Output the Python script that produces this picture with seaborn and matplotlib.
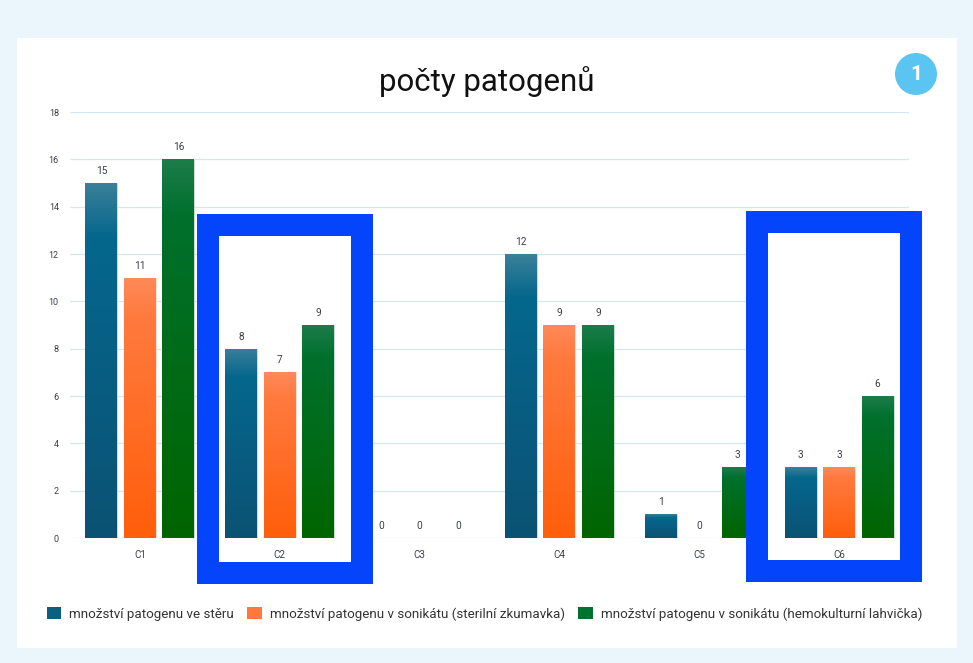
import numpy as np
import pandas as pd
import matplotlib
matplotlib.use("Agg")
import matplotlib.pyplot as plt
import seaborn as sns
from matplotlib.patches import Rectangle, Ellipse, Patch
from matplotlib.colors import LinearSegmentedColormap

categories = ["C1", "C2", "C3", "C4", "C5", "C6"]
series_names = [
    "množství patogenu ve stěru",
    "množství patogenu v sonikátu (sterilní zkumavka)",
    "množství patogenu v sonikátu (hemokulturní lahvička)",
]
swab = [15, 8, 0, 12, 1, 3]
sonic_tube = [11, 7, 0, 9, 0, 3]
sonic_bottle = [16, 9, 0, 9, 3, 6]
y_ticks = [0, 2, 4, 6, 8, 10, 12, 14, 16, 18]
title = "počty patogenů"

colors = ["#0d5f80", "#ff7a3a", "#00722f"]
# gradient stops: bottom, upper-middle, top
grad_stops = [
    ["#0b5274", "#05678d", "#3a8099"],
    ["#ff5e0a", "#ff7a3e", "#ff8a5a"],
    ["#006500", "#00702c", "#1c7c4a"],
]

sns.set_theme(style="white")
plt.rcParams["font.family"] = ["Roboto", "DejaVu Sans"]

df = pd.DataFrame({
    "cat": categories * 3,
    "val": swab + sonic_tube + sonic_bottle,
    "series": [series_names[0]] * 6 + [series_names[1]] * 6 + [series_names[2]] * 6,
})

W, H = 973, 663
fig = plt.figure(figsize=(W / 100, H / 100), dpi=100, facecolor="#ebf5fc")

def fx(px):
    return px / W

def fy(py):
    return 1 - py / H

# white card
fig.patches.append(Rectangle((fx(17), fy(648)), fx(957) - fx(17), fy(38) - fy(648),
                             transform=fig.transFigure, facecolor="white",
                             edgecolor="none", zorder=-5))

ax = fig.add_axes([fx(70), fy(538), fx(909) - fx(70), fy(112) - fy(538)])
ax.set_facecolor("none")

sns.barplot(data=df, x="cat", y="val", hue="series", hue_order=series_names,
            palette=colors, width=0.826, gap=0.17, ax=ax, legend=False,
            edgecolor="white", linewidth=0.4, zorder=2)

ax.set_ylim(0, 18)
ax.set_yticks(y_ticks)
ax.set_yticklabels([str(t) for t in y_ticks], fontsize=6.5, color="#3a3f4a")
ax.tick_params(axis="y", length=0, pad=8)
ax.tick_params(axis="x", length=0, pad=9, labelsize=7, labelcolor="#3a3f4a")
ax.set_xlabel("")
ax.set_ylabel("")
ax.grid(axis="y", color="#d5e6f3", linewidth=0.9)
ax.grid(axis="x", visible=False)
for s in ax.spines.values():
    s.set_visible(False)
ax.yaxis.set_zorder(0.5)
ax.xaxis.set_zorder(3)

# gradient fill on each bar
grad = np.linspace(0, 1, 256).reshape(-1, 1)
for i, cont in enumerate(ax.containers):
    cmap = LinearSegmentedColormap.from_list(
        "g%d" % i, [(0.0, grad_stops[i][0]), (0.85, grad_stops[i][1]), (1.0, grad_stops[i][2])])
    for bar in cont:
        h = bar.get_height()
        if h <= 0:
            continue
        x0 = bar.get_x()
        w = bar.get_width()
        im = ax.imshow(grad, cmap=cmap, aspect="auto", origin="lower",
                       extent=[x0, x0 + w, 0, h], zorder=2.1)
        im.set_clip_path(bar)
    ax.bar_label(cont, fmt="%d", padding=5, fontsize=7.3, color="#3a3f4a", zorder=3)

ax.set_xlim(-0.5, 5.5)
ax.set_ylim(0, 18)

# highlight boxes (outer/inner pixel coordinates)
boxes = [((197, 214), (373, 584)), ((746, 211), (922, 582))]
for (x0, y0), (x1, y1) in boxes:
    bw = 22
    inner = Rectangle((fx(x0 + bw), fy(y1 - bw)), fx(x1 - bw) - fx(x0 + bw),
                      fy(y0 + bw) - fy(y1 - bw), transform=fig.transFigure,
                      facecolor="white", edgecolor="none", zorder=1, clip_on=False)
    ax.add_artist(inner)
    lw_pt = bw * 72 / 100
    border = Rectangle((fx(x0 + bw / 2), fy(y1 - bw / 2)), fx(x1 - bw / 2) - fx(x0 + bw / 2),
                       fy(y0 + bw / 2) - fy(y1 - bw / 2), transform=fig.transFigure,
                       facecolor="none", edgecolor="#0445fb", linewidth=lw_pt,
                       joinstyle="miter", zorder=5, clip_on=False)
    ax.add_artist(border)

# title
fig.text(0.5, fy(82), title, ha="center", va="center", fontsize=22.5, color="#111111")

# badge
fig.add_artist(Ellipse((fx(916), fy(74)), 42 / W, 42 / H, transform=fig.transFigure,
                       facecolor="#5bc5f2", edgecolor="none", zorder=5))
fig.text(fx(916), fy(74), "1", ha="center", va="center", fontsize=15,
         fontweight="bold", color="white", zorder=6)

# legend
handles = [Patch(facecolor=c, edgecolor="none") for c in colors]
fig.legend(handles, series_names, loc="center left", bbox_to_anchor=(fx(34.5), fy(614)),
           ncol=3, frameon=False, fontsize=9.6, handlelength=1.12, handleheight=0.98,
           handletextpad=0.6, columnspacing=0.98, labelcolor="#333333")

fig.savefig("out.png", dpi=100, facecolor=fig.get_facecolor())
